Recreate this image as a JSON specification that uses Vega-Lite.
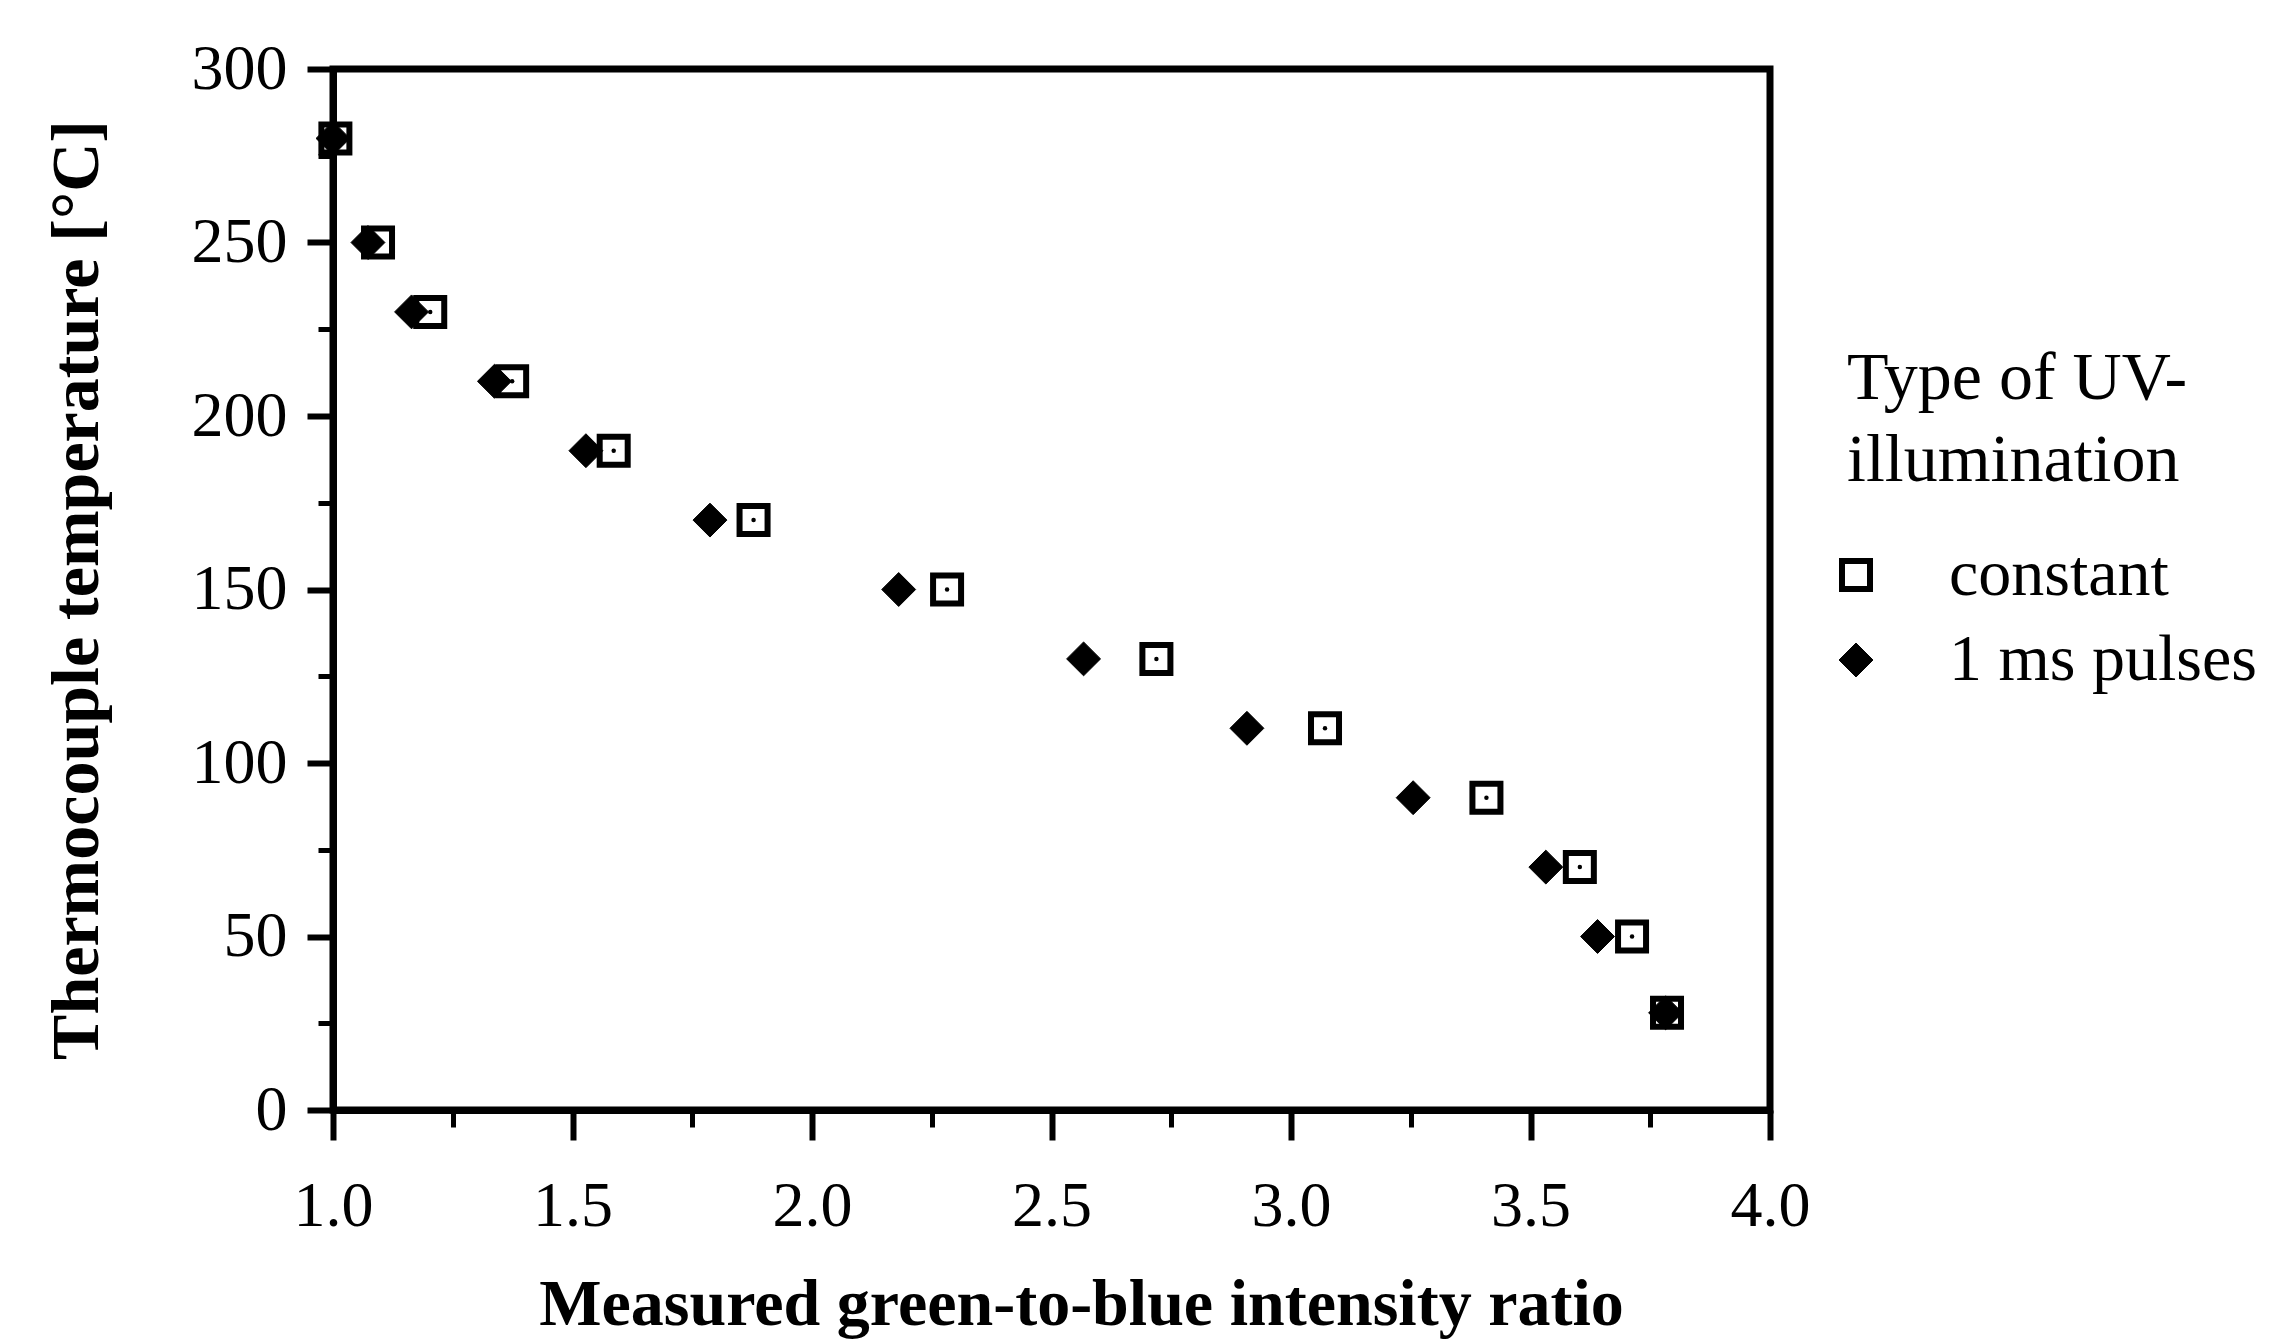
{
  "$schema": "https://vega.github.io/schema/vega-lite/v6.json",
  "width": 1437,
  "height": 1041,
  "autosize": "none",
  "padding": {"left": 333, "top": 69, "right": 513, "bottom": 234},
  "background": "white",
  "config": {
    "font": "Liberation Serif",
    "view": {"stroke": "black", "strokeWidth": 7}
  },
  "data": {
    "values": [
      {"r": 1.0, "t": 280, "type": "1 ms pulses"},
      {"r": 1.073, "t": 250, "type": "1 ms pulses"},
      {"r": 1.164, "t": 230, "type": "1 ms pulses"},
      {"r": 1.337, "t": 210, "type": "1 ms pulses"},
      {"r": 1.528, "t": 190, "type": "1 ms pulses"},
      {"r": 1.787, "t": 170, "type": "1 ms pulses"},
      {"r": 2.181, "t": 150, "type": "1 ms pulses"},
      {"r": 2.567, "t": 130, "type": "1 ms pulses"},
      {"r": 2.908, "t": 110, "type": "1 ms pulses"},
      {"r": 3.255, "t": 90, "type": "1 ms pulses"},
      {"r": 3.532, "t": 70, "type": "1 ms pulses"},
      {"r": 3.640, "t": 50, "type": "1 ms pulses"},
      {"r": 3.782, "t": 28, "type": "1 ms pulses"},
      {"r": 1.005, "t": 280, "type": "constant"},
      {"r": 1.094, "t": 250, "type": "constant"},
      {"r": 1.203, "t": 230, "type": "constant"},
      {"r": 1.374, "t": 210, "type": "constant"},
      {"r": 1.586, "t": 190, "type": "constant"},
      {"r": 1.878, "t": 170, "type": "constant"},
      {"r": 2.282, "t": 150, "type": "constant"},
      {"r": 2.719, "t": 130, "type": "constant"},
      {"r": 3.071, "t": 110, "type": "constant"},
      {"r": 3.408, "t": 90, "type": "constant"},
      {"r": 3.603, "t": 70, "type": "constant"},
      {"r": 3.712, "t": 50, "type": "constant"},
      {"r": 3.785, "t": 28, "type": "constant"}
    ]
  },
  "layer": [
    {
      "mark": {"type": "point", "opacity": 0},
      "encoding": {
        "x": {
          "field": "r", "type": "quantitative",
          "scale": {"domain": [1, 4], "nice": false, "zero": false},
          "axis": {"orient": "bottom", "values": [1.25, 1.75, 2.25, 2.75, 3.25, 3.75], "labels": false, "domain": false, "title": null, "grid": false, "tickSize": 17, "tickWidth": 5, "tickColor": "black"}
        },
        "y": {
          "field": "t", "type": "quantitative",
          "scale": {"domain": [0, 300], "nice": false},
          "axis": {"orient": "left", "values": [25, 75, 125, 175, 225, 275], "labels": false, "domain": false, "title": null, "grid": false, "tickSize": 15, "tickWidth": 5, "tickColor": "black"}
        }
      }
    },
    {
      "mark": {"type": "point", "stroke": "black", "opacity": 1},
      "encoding": {
        "x": {
          "field": "r", "type": "quantitative",
          "axis": {"orient": "bottom", "values": [1, 1.5, 2, 2.5, 3, 3.5, 4], "format": ".1f", "grid": false, "tickSize": 30, "tickWidth": 6, "tickColor": "black", "domainColor": "black", "domainWidth": 7, "labelFontSize": 64, "labelColor": "black", "labelPadding": 34, "labelFlush": false, "title": "Measured green-to-blue intensity ratio", "titleFontSize": 66, "titleFontWeight": "bold", "titleColor": "black", "titlePadding": 34, "titleX": 748}
        },
        "y": {
          "field": "t", "type": "quantitative",
          "axis": {"orient": "left", "values": [0, 50, 100, 150, 200, 250, 300], "grid": false, "tickSize": 26, "tickWidth": 6, "tickColor": "black", "domainColor": "black", "domainWidth": 7, "labelFontSize": 64, "labelColor": "black", "labelPadding": 20, "labelFlush": false, "title": "Thermocouple temperature [°C]", "titleFontSize": 68, "titleFontWeight": "bold", "titleColor": "black", "titlePadding": 80}
        },
        "shape": {
          "field": "type", "type": "nominal",
          "scale": {"domain": ["constant", "1 ms pulses"], "range": ["square", "diamond"]},
          "legend": {"orient": "none", "legendX": 1514, "legendY": 276, "title": ["Type of UV-", "illumination"], "titleFontSize": 68, "titleFontWeight": "normal", "titleColor": "black", "titleLineHeight": 82, "titlePadding": 47, "titleLimit": 1000, "labelFontSize": 66, "labelColor": "black", "labelLimit": 1000, "symbolOffset": -24, "labelOffset": 60, "rowPadding": 19, "padding": 0}
        },
        "fill": {
          "field": "type", "type": "nominal",
          "scale": {"domain": ["constant", "1 ms pulses"], "range": ["transparent", "black"]},
          "legend": {"orient": "none", "legendX": 1514, "legendY": 276, "title": ["Type of UV-", "illumination"], "titleFontSize": 68, "titleFontWeight": "normal", "titleColor": "black", "titleLineHeight": 82, "titlePadding": 47, "titleLimit": 1000, "labelFontSize": 66, "labelColor": "black", "labelLimit": 1000, "symbolOffset": -24, "labelOffset": 60, "rowPadding": 19, "padding": 0}
        },
        "strokeWidth": {
          "field": "type", "type": "nominal",
          "scale": {"domain": ["constant", "1 ms pulses"], "range": [6, 1]},
          "legend": {"orient": "none", "legendX": 1514, "legendY": 276, "title": ["Type of UV-", "illumination"], "titleFontSize": 68, "titleFontWeight": "normal", "titleColor": "black", "titleLineHeight": 82, "titlePadding": 47, "titleLimit": 1000, "labelFontSize": 66, "labelColor": "black", "labelLimit": 1000, "symbolOffset": -24, "labelOffset": 60, "rowPadding": 19, "padding": 0}
        },
        "size": {
          "field": "type", "type": "nominal",
          "scale": {"domain": ["constant", "1 ms pulses"], "range": [784, 1150]},
          "legend": {"orient": "none", "legendX": 1514, "legendY": 276, "title": ["Type of UV-", "illumination"], "titleFontSize": 68, "titleFontWeight": "normal", "titleColor": "black", "titleLineHeight": 82, "titlePadding": 47, "titleLimit": 1000, "labelFontSize": 66, "labelColor": "black", "labelLimit": 1000, "symbolOffset": -24, "labelOffset": 60, "rowPadding": 19, "padding": 0}
        }
      }
    },
    {
      "transform": [{"filter": "datum.type === 'constant'"}],
      "mark": {"type": "point", "filled": true, "color": "black", "opacity": 1, "size": 20},
      "encoding": {
        "x": {"field": "r", "type": "quantitative", "axis": null},
        "y": {"field": "t", "type": "quantitative", "axis": null}
      }
    }
  ],
  "resolve": {"axis": {"x": "independent", "y": "independent"}}
}
